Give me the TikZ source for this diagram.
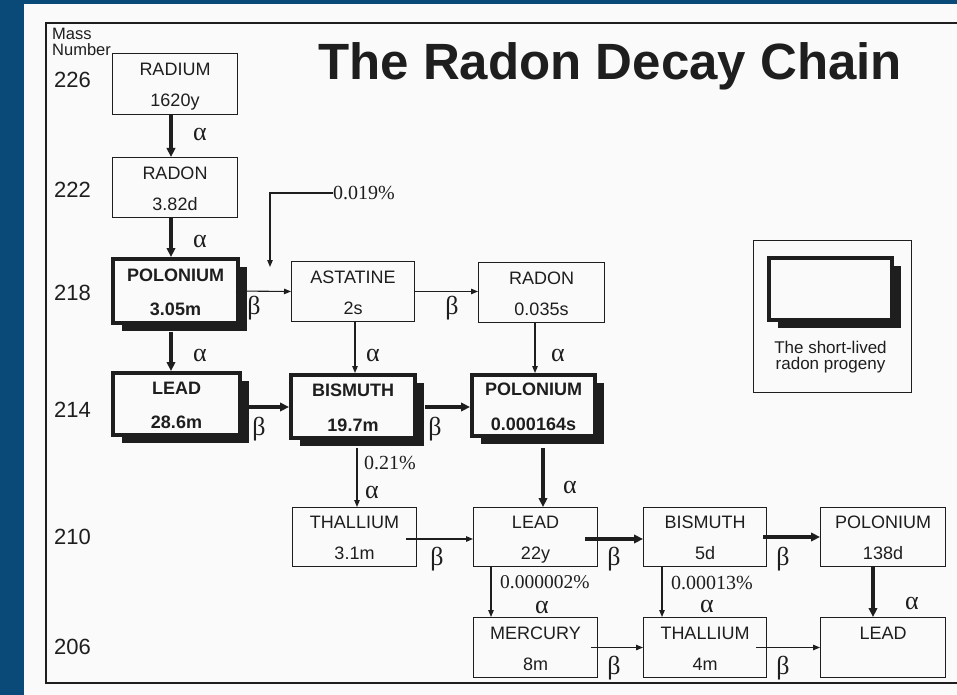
\documentclass[tikz,border=0pt]{standalone}
\usepackage{fontspec}
\setmainfont{Liberation Sans}
\newfontfamily\serifgr{Liberation Serif}
\usetikzlibrary{arrows.meta,shadows}
\definecolor{bg}{RGB}{10,74,120}
\definecolor{ink}{RGB}{30,30,30}
\definecolor{paper}{RGB}{250,250,250}
\tikzset{
  thinbox/.style={draw=ink,line width=1.2pt,fill=paper,inner sep=0pt},
  thickbox/.style={draw=ink,line width=4pt,fill=paper,inner sep=0pt,
    drop shadow={shadow xshift=9pt,shadow yshift=-8pt,opacity=1,fill=ink}},
  boxtxt/.style={inner sep=0pt,text=ink,font=\fontsize{18}{20}\selectfont},
  boldtxt/.style={inner sep=0pt,text=ink,font=\bfseries\fontsize{18}{20}\selectfont},
  greek/.style={inner sep=0pt,text=ink,font=\serifgr\fontsize{26}{27}\selectfont},
  pct/.style={inner sep=0pt,text=ink,anchor=west,font=\serifgr\fontsize{20}{21}\selectfont},
  massnum/.style={inner sep=0pt,text=ink,anchor=west,font=\fontsize{22}{24}\selectfont},
  tarr/.style={draw=ink,line width=1.1pt,-{Triangle[length=7pt,width=5.5pt]}},
  karr/.style={draw=ink,line width=3.2pt,-{Triangle[length=9pt,width=8.5pt]}},
}
\newcommand\isothin[7]{%
  \node[thinbox,minimum width=#4pt,minimum height=#5pt] (#1) at (#2,#3) {};
  \node[boxtxt,anchor=base] (#1-a) at (#2,#3-8.5) {#6};
  \node[boxtxt,anchor=base] (#1-b) at (#2,#3+22.5) {#7};}
\newcommand\isothick[7]{%
  \node[thickbox,minimum width=#4pt,minimum height=#5pt] (#1) at (#2,#3) {};
  \node[boldtxt,anchor=base] (#1-a) at (#2,#3-10) {#6};
  \node[boldtxt,anchor=base] (#1-b) at (#2,#3+24.5) {#7};}
\begin{document}
\begin{tikzpicture}[x=1pt,y=-1pt]
\useasboundingbox (0,0) rectangle (957,695);
\fill[bg] (0,0) rectangle (957,695);
\fill[paper] (24,4) rectangle (957,695);
\draw[ink,line width=2pt] (957,23) -- (46,23) -- (46,683) -- (957,683);

% title and axis
\node[inner sep=0pt,anchor=base west,text=ink,font=\bfseries\fontsize{51}{53}\selectfont] (title) at (318,80) {The Radon Decay Chain};
\node[inner sep=0pt,anchor=base west,text=ink,font=\fontsize{16.5}{17}\selectfont] (mass1) at (52,40) {Mass};
\node[inner sep=0pt,anchor=base west,text=ink,font=\fontsize{16.5}{17}\selectfont] (mass2) at (52,56) {Number};
\node[massnum] (m226) at (54,80) {226};
\node[massnum] (m222) at (54,189.5) {222};
\node[massnum] (m218) at (54,293) {218};
\node[massnum] (m214) at (54,410) {214};
\node[massnum] (m210) at (54,537) {210};
\node[massnum] (m206) at (54,646.5) {206};

% boxes
\isothin{ra}{175}{84}{124.8}{60.8}{RADIUM}{1620y}
\isothin{rn}{175}{187.5}{124.8}{59.8}{RADON}{3.82d}
\isothick{po1}{175.5}{291}{125}{64}{POLONIUM}{3.05m}
\isothin{at}{353}{291.5}{122.8}{59.8}{ASTATINE}{2s}
\isothin{rn2}{541.5}{292.5}{125.8}{59.8}{RADON}{0.035s}
\isothick{pb1}{176.5}{404}{127}{62}{LEAD}{28.6m}
\isothick{bi1}{353}{406.5}{124}{63}{BISMUTH}{19.7m}
\isothick{po2}{533.5}{405.5}{123}{61}{POLONIUM}{0.000164s}
\isothin{tl}{354.5}{537}{123.8}{58.8}{THALLIUM}{3.1m}
\isothin{pb}{535.5}{537}{123.8}{58.8}{LEAD}{22y}
\isothin{bi2}{705}{537}{122.8}{58.8}{BISMUTH}{5d}
\isothin{po3}{883}{537}{124.8}{58.8}{POLONIUM}{138d}
\isothin{hg}{535.5}{647.5}{123.8}{59.8}{MERCURY}{8m}
\isothin{tl2}{705}{647.5}{122.8}{59.8}{THALLIUM}{4m}
\isothin{pbf}{883}{647.5}{124.8}{59.8}{LEAD}{}

% legend
\node[thinbox,minimum width=157.8pt,minimum height=151.8pt] (legend) at (832.5,316.5) {};
\node[thickbox,minimum width=123pt,minimum height=62pt] (legbox) at (830.5,289) {};
\node[boxtxt,anchor=base,font=\fontsize{17}{17}\selectfont] (leg1) at (830.5,353) {The short-lived};
\node[boxtxt,anchor=base,font=\fontsize{17}{17}\selectfont] (leg2) at (830.5,369) {radon progeny};

% arrows
\draw[karr] ([xshift=-4pt]ra.south) -- ([xshift=-4pt]rn.north);
\draw[karr] ([xshift=-4pt]rn.south) -- ([xshift=-4.5pt]po1.north);
\draw[karr] ([xshift=-4.5pt,yshift=-7pt]po1.south) -- ([xshift=-5.5pt]pb1.north);
\draw[tarr] ([xshift=-4pt]po1.east) -- (at.west);
\draw[tarr] (at.east) -- (at.east -| rn2.west);
\draw[tarr] ([xshift=2pt]at.south) -- ([xshift=2pt]bi1.north);
\draw[tarr] ([xshift=-6.5pt]rn2.south) -- ([xshift=1.5pt]po2.north);
\draw[karr] ([xshift=7pt,yshift=-3pt]pb1.east) -- ([yshift=-0.5pt]bi1.west);
\draw[karr] ([xshift=8pt,yshift=-0.5pt]bi1.east) -- ([yshift=-1.5pt]po2.west);
\draw[tarr] ([xshift=4pt,yshift=-8pt]bi1.south) -- ([xshift=2.5pt]tl.north);
\draw[karr] ([xshift=9.5pt,yshift=-10pt]po2.south) -- ([xshift=7.5pt]pb.north);
\draw[tarr] ([xshift=-11pt,yshift=-2pt]tl.east) -- ([yshift=-2pt]pb.west);
\draw[karr] ([xshift=-13pt,yshift=-2pt]pb.east) -- ([yshift=-2pt]bi2.west);
\draw[karr] ([xshift=-4pt]bi2.east) -- (po3.west);
\draw[tarr] ([xshift=-44.5pt]pb.south) -- ([xshift=-44.5pt]hg.north);
\draw[tarr] ([xshift=-43pt]bi2.south) -- ([xshift=-43pt]tl2.north);
\draw[karr] ([xshift=-10pt]po3.south) -- ([xshift=-10pt]pbf.north);
\draw[tarr] ([xshift=-7pt]hg.east) -- (tl2.west);
\draw[tarr] ([xshift=-11pt]tl2.east) -- (pbf.west);

% branch 0.019%
\node[pct] (p019) at (333,193) {0.019\%};
\coordinate (c019) at (270,267);
\draw[tarr] (p019.west) -| (c019);

% percent labels
\node[pct] (p021) at (364,463) {0.21\%};
\node[pct,font=\serifgr\fontsize{19.5}{21}\selectfont] (p2) at (500,582) {0.000002\%};
\node[pct] (p13) at (671,582.5) {0.00013\%};

% alpha labels
\node[greek] (a1) at (200,134) {α};
\node[greek] (a2) at (200,241) {α};
\node[greek] (a3) at (200,355) {α};
\node[greek] (a4) at (373,355) {α};
\node[greek] (a5) at (558,355) {α};
\node[greek] (a6) at (372,492) {α};
\node[greek] (a7) at (570,487) {α};
\node[greek] (a8) at (542,607) {α};
\node[greek] (a9) at (707,606) {α};
\node[greek] (a10) at (912,603) {α};

% beta labels
\node[greek] (b1) at (254,308) {β};
\node[greek] (b2) at (452,308) {β};
\node[greek] (b3) at (259,429) {β};
\node[greek] (b4) at (435,429) {β};
\node[greek] (b5) at (437,559) {β};
\node[greek] (b6) at (614,559) {β};
\node[greek] (b7) at (783,559) {β};
\node[greek] (b8) at (614,668) {β};
\node[greek] (b9) at (783,668) {β};
\end{tikzpicture}
\end{document}
